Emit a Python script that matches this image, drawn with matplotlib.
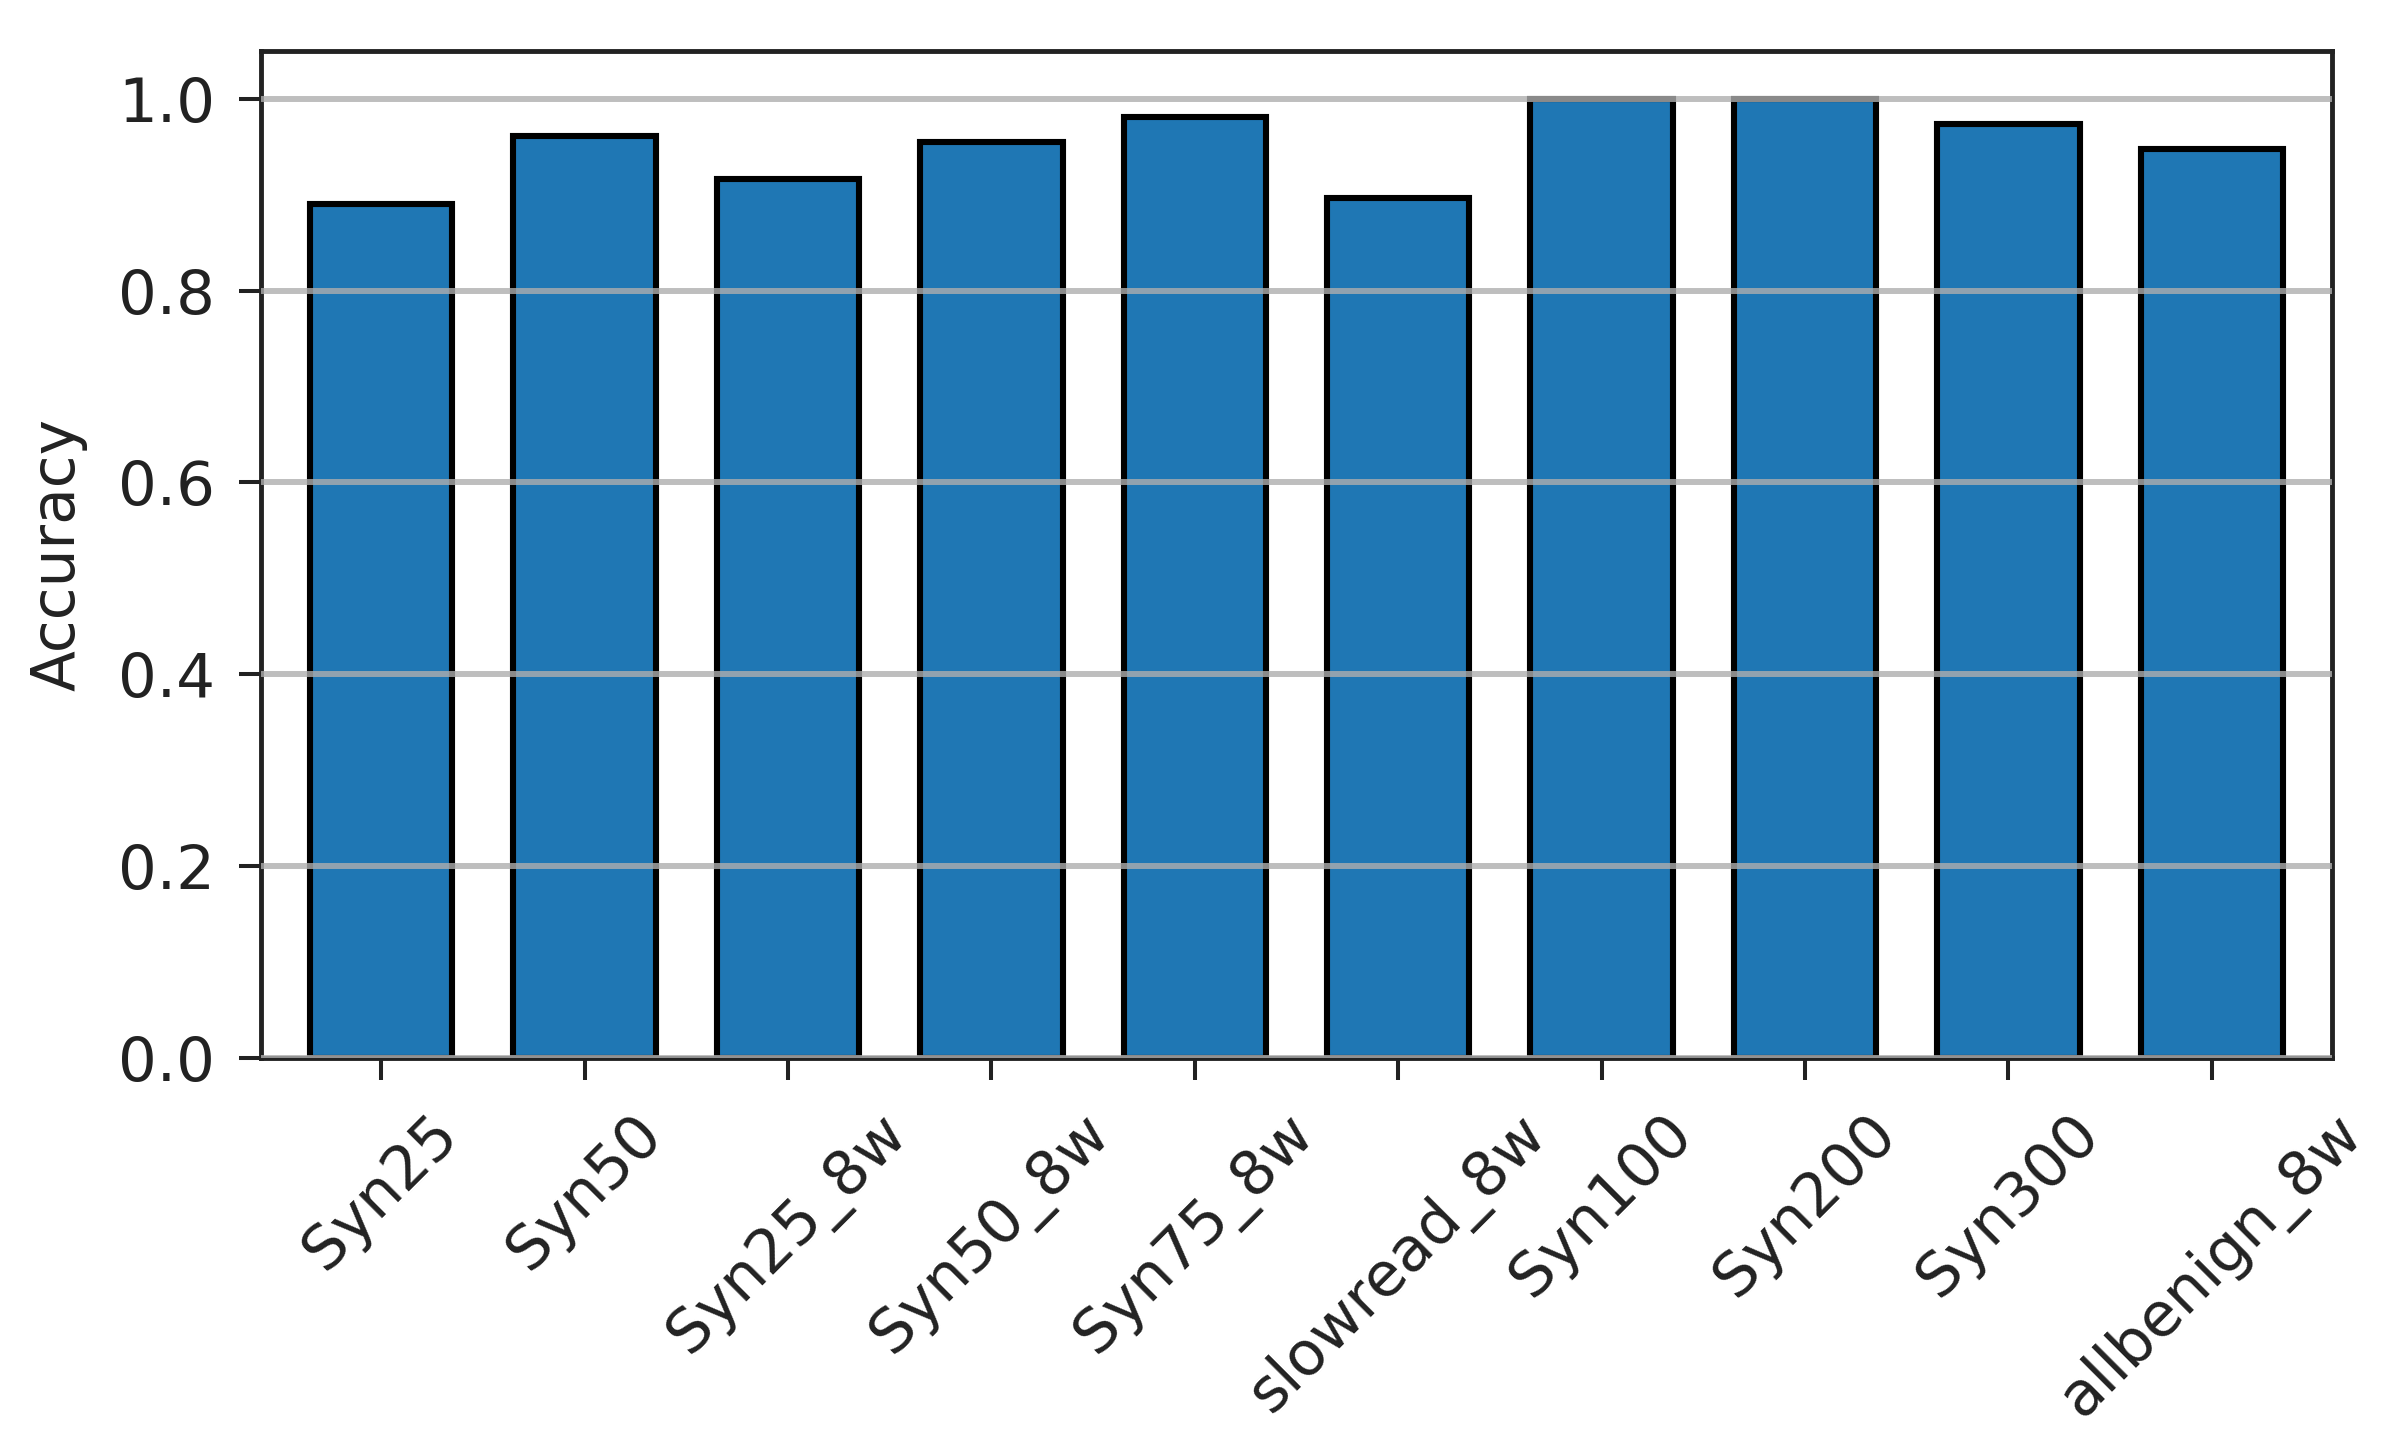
import matplotlib
matplotlib.use("Agg")
import matplotlib.pyplot as plt

# data
datasets = ["Syn25", "Syn50", "Syn25_8w", "Syn50_8w", "Syn75_8w",
            "slowread_8w", "Syn100", "Syn200", "Syn300", "allbenign_8w"]
accuracy = [0.890, 0.961, 0.916, 0.955, 0.981, 0.897, 1.0, 1.0, 0.974, 0.948]
yticks = [0.0, 0.2, 0.4, 0.6, 0.8, 1.0]

fig, ax = plt.subplots(figsize=(24.04, 14.51), dpi=100)
fig.subplots_adjust(left=0.1086, right=0.970, top=0.965, bottom=0.271)

x = range(len(datasets))
ax.bar(x, accuracy, width=0.7, color="#1f77b4", edgecolor="black", linewidth=4.4)

# grid drawn over the bars, only horizontal
ax.set_axisbelow(False)
ax.yaxis.grid(True, color="#aeaeae", alpha=0.8, linewidth=4.3)

ax.set_xlim(-0.59, 9.59)
ax.set_ylim(0, 1.05)
ax.set_yticks(yticks)
ax.set_yticklabels([f"{t:.1f}" for t in yticks])
ax.set_xticks(list(x))
ax.set_xticklabels(datasets, rotation=45)

ax.set_ylabel("Accuracy", fontsize=43, color="#222222", labelpad=22)
ax.tick_params(axis="both", labelsize=44, length=16, width=2.9, pad=17,
               colors="#222222")
for s in ax.spines.values():
    s.set_linewidth(3.5)
    s.set_color("#222222")

plt.savefig("out.png", dpi=100)
